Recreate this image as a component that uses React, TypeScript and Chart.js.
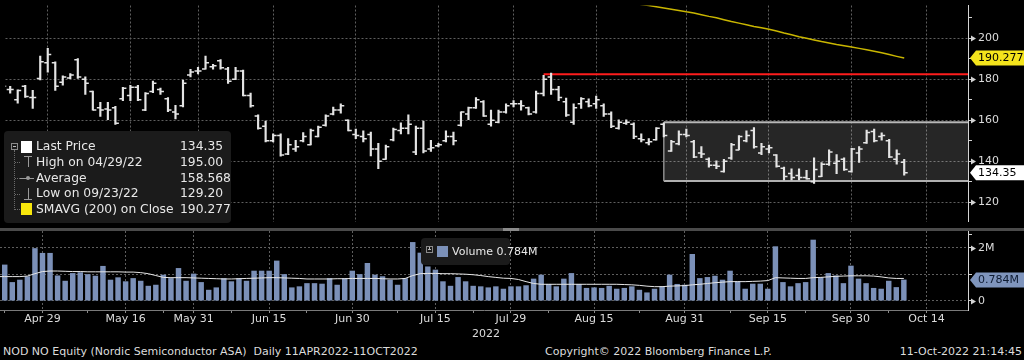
import React, { useEffect, useRef } from "react";
import { Chart, registerables } from "chart.js";

Chart.register(...registerables);

const FONT = '"DejaVu Sans", "Liberation Sans", sans-serif';

// Trading days shown on the chart (Oslo Børs), the last three have no data yet
const dates = [
  "Apr 21", "Apr 22", "Apr 25", "Apr 26", "Apr 27", "Apr 28", "Apr 29",
  "May 2", "May 3", "May 4", "May 5", "May 6", "May 9", "May 10", "May 11", "May 12", "May 13",
  "May 16", "May 18", "May 19", "May 20", "May 23", "May 24", "May 25", "May 27", "May 30", "May 31",
  "Jun 1", "Jun 2", "Jun 3", "Jun 7", "Jun 8", "Jun 9", "Jun 10", "Jun 13", "Jun 14", "Jun 15", "Jun 16", "Jun 17",
  "Jun 20", "Jun 21", "Jun 22", "Jun 23", "Jun 24", "Jun 27", "Jun 28", "Jun 29", "Jun 30",
  "Jul 1", "Jul 4", "Jul 5", "Jul 6", "Jul 7", "Jul 8", "Jul 11", "Jul 12", "Jul 13", "Jul 14", "Jul 15",
  "Jul 18", "Jul 19", "Jul 20", "Jul 21", "Jul 22", "Jul 25", "Jul 26", "Jul 27", "Jul 28", "Jul 29",
  "Aug 1", "Aug 2", "Aug 3", "Aug 4", "Aug 5", "Aug 8", "Aug 9", "Aug 10", "Aug 11", "Aug 12", "Aug 15",
  "Aug 16", "Aug 17", "Aug 18", "Aug 19", "Aug 22", "Aug 23", "Aug 24", "Aug 25", "Aug 26", "Aug 29", "Aug 30", "Aug 31",
  "Sep 1", "Sep 2", "Sep 5", "Sep 6", "Sep 7", "Sep 8", "Sep 9", "Sep 12", "Sep 13", "Sep 14", "Sep 15",
  "Sep 16", "Sep 19", "Sep 20", "Sep 21", "Sep 22", "Sep 23", "Sep 26", "Sep 27", "Sep 28", "Sep 29", "Sep 30",
  "Oct 3", "Oct 4", "Oct 5", "Oct 6", "Oct 7", "Oct 10", "Oct 11", "Oct 12", "Oct 13", "Oct 14",
];

const tickDates = ["Apr 29", "May 16", "May 31", "Jun 15", "Jun 30", "Jul 15", "Jul 29", "Aug 15", "Aug 31", "Sep 15", "Sep 30", "Oct 14"];
const minorTickDates = ["Apr 22", "May 9", "May 24", "Jun 8", "Jun 22", "Jul 8", "Jul 22", "Aug 5", "Aug 23", "Sep 8", "Sep 22", "Oct 7"];

const open = [
  177, 175, 170, 176.5, 171, 180.3, 188, 188, 178.5, 180.5,
  189.5, 180, 174, 166, 165.5, 166, 170.5, 172, 176, 165,
  174, 175, 170.5, 164, 167, 182, 184, 185, 186, 189,
  185, 180, 184, 172, 162, 157, 150, 152.5, 143.5, 146,
  150, 148, 152, 157.5, 163, 165, 160, 153, 152, 153,
  146, 141, 150.5, 155, 156, 144.5, 156, 146, 147.5, 150,
  152, 157.5, 163, 166, 169, 158, 159, 164, 168, 168,
  166, 164, 173, 181, 175, 169, 159, 168, 169, 168,
  167, 163, 156, 158.5, 158, 151, 149, 150.5, 158, 145,
  148.5, 153, 149.5, 144, 141, 138, 135, 141.5, 145.5, 150,
  155, 144, 146, 143, 136.5, 134, 133, 132, 130, 132.5,
  138.5, 139, 141, 135, 144, 149, 154.5, 152, 150, 141,
  139.5,
];
const high = [
  178, 176.5, 174.8, 177, 174.5, 191.2, 195, 188.4, 181.6, 182.7,
  190, 181.1, 174.2, 168.7, 168.7, 166.7, 176, 177, 177, 173.4,
  179.1, 175.7, 171, 167.2, 179.6, 184.8, 185.7, 191.2, 187.2, 189.5,
  185.7, 185.7, 184.4, 173.2, 162.6, 159.5, 153.3, 153.3, 151, 150.2,
  154, 155.6, 157.1, 162.6, 166.4, 168, 160.2, 155.6, 154.8, 154.2,
  148.7, 147.9, 156.1, 158.7, 162.6, 157.1, 159.5, 150.2, 148.7, 154.8,
  154.2, 164.1, 166.4, 171, 169.5, 164.9, 164.9, 168, 169.5, 169.5,
  166.4, 174.2, 181.9, 183, 176.5, 170.8, 168, 171, 170.4, 171.8,
  168, 164.1, 160.2, 160.2, 158.7, 153.3, 151, 156.4, 158.7, 150.2,
  154.8, 155.6, 150.2, 147.1, 141.7, 140.2, 140.9, 148.7, 152.5, 154.8,
  156.4, 148.7, 147.9, 143.2, 137.1, 136.3, 136.3, 135.5, 141.7, 139.3,
  145.6, 143.2, 141.7, 146.3, 147.1, 155.2, 155.6, 153.8, 150.6, 145.6,
  140.9,
];
const low = [
  175, 173.2, 168.3, 171.1, 165.7, 179.6, 183.4, 174.5, 177, 180.2,
  180.3, 172.6, 164.9, 161.8, 160.3, 157.9, 169.5, 169.5, 169.5, 164.6,
  173.4, 172.6, 164.2, 160.6, 166.4, 181.1, 182.5, 184.8, 184.8, 184.8,
  177.9, 179.7, 171.8, 166.3, 155.6, 149.4, 149.4, 142.5, 143.2, 144.8,
  149.4, 147.9, 151.8, 157.1, 162.6, 163.4, 154.8, 151, 149.4, 142.6,
  136.3, 140.9, 149.9, 153.3, 153.3, 143.2, 144, 144.8, 147, 149.4,
  147.9, 157.1, 160.2, 165.7, 161.8, 157.1, 158.7, 163.4, 166.4, 164.9,
  162.6, 163.4, 171.8, 172.6, 169.5, 161.8, 157.9, 165.7, 166.4, 165.7,
  161.8, 156.4, 155.6, 157.9, 151, 149.4, 147.9, 150.2, 151.8, 144.8,
  147.9, 151.8, 141.7, 141.7, 137.1, 136.3, 134.7, 140.9, 145.5, 149.4,
  146.3, 143.2, 144, 137.1, 130.9, 130.9, 130.9, 131.2, 129.2, 132.4,
  137.9, 133.9, 135.5, 134.7, 139.4, 148.7, 149.4, 150.2, 141.7, 138.6,
  133.2,
];
const close = [
  176.5, 175, 174.5, 171.5, 171, 188.5, 192, 176.5, 181, 182,
  181, 178, 165, 165, 165, 158.5, 175.5, 176, 170, 173,
  178, 174, 165, 163, 178, 183.5, 184, 188, 186.5, 185.5,
  179, 184, 172, 167, 156, 150, 152.5, 143, 148, 147,
  152, 155, 156.5, 162, 165, 167, 155, 152.5, 151, 146,
  140, 147, 155.5, 156, 158, 156, 145, 146.5, 148, 152,
  150, 164, 166, 170, 162, 160, 164, 167, 168, 167,
  163, 173, 180, 175, 171, 162.5, 166, 170.5, 167, 170,
  163, 157, 159, 159, 152, 150.5, 149.5, 156, 152.5, 149.5,
  153, 152.5, 142, 143.5, 138, 137.5, 140, 148, 152, 152.5,
  147, 147, 146.5, 137.5, 132.5, 132, 132, 131.5, 136, 138.5,
  144.5, 140, 136, 146, 146, 154, 150, 152.5, 142, 143.5,
  134.35,
];

// Volume in millions of shares and its moving average
const volume = [
  0.65, 1.35, 0.69, 0.78, 0.91, 1.97, 1.79, 1.79, 0.94, 0.74,
  1.03, 1.06, 0.99, 0.93, 1.30, 0.78, 0.87, 0.72, 0.84, 0.74,
  0.55, 0.59, 0.97, 0.84, 1.22, 0.74, 1.01, 0.69, 0.40, 0.49,
  0.84, 0.72, 0.84, 0.74, 1.12, 1.12, 1.12, 1.50, 0.99, 0.49,
  0.53, 0.65, 0.65, 0.63, 0.84, 0.59, 0.84, 1.12, 0.99, 1.41,
  0.97, 0.91, 0.78, 0.59, 0.84, 2.20, 1.80, 1.28, 1.16, 0.72,
  0.55, 0.88, 0.72, 0.55, 0.53, 0.49, 0.53, 0.44, 0.53, 0.53,
  0.57, 0.82, 0.97, 0.62, 0.53, 0.82, 1.03, 0.62, 0.47, 0.49,
  0.47, 0.55, 0.44, 0.47, 0.53, 0.40, 0.30, 0.44, 0.53, 0.97,
  0.62, 0.59, 1.75, 0.84, 0.88, 0.93, 0.78, 1.12, 0.72, 0.44,
  0.63, 0.63, 0.44, 2.04, 0.69, 0.53, 0.65, 0.69, 2.29, 0.87,
  1.03, 0.94, 0.65, 1.31, 0.82, 0.65, 0.47, 0.44, 0.74, 0.50,
  0.784,
];
const volumeAvg = [
  0.91, 0.91, 0.91, 0.91, 0.93, 1.02, 1.10, 1.12, 1.12, 1.11,
  1.10, 1.10, 1.09, 1.09, 1.09, 1.09, 1.09, 1.08, 1.08, 1.06,
  1.02, 0.95, 0.88, 0.87, 0.87, 0.87, 0.86, 0.85, 0.84, 0.83,
  0.82, 0.82, 0.83, 0.84, 0.85, 0.86, 0.87, 0.87, 0.86, 0.85,
  0.84, 0.82, 0.82, 0.82, 0.82, 0.83, 0.83, 0.84, 0.84, 0.84,
  0.84, 0.83, 0.82, 0.82, 0.84, 0.95, 1.02, 1.03, 1.03, 1.02,
  1.02, 1.01, 1.00, 0.98, 0.95, 0.91, 0.88, 0.85, 0.84, 0.80,
  0.72, 0.65, 0.62, 0.62, 0.62, 0.62, 0.62, 0.62, 0.62, 0.62,
  0.62, 0.62, 0.62, 0.61, 0.60, 0.58, 0.55, 0.53, 0.53, 0.55,
  0.56, 0.57, 0.60, 0.62, 0.65, 0.68, 0.70, 0.72, 0.72, 0.72,
  0.73, 0.74, 0.76, 0.87, 0.86, 0.85, 0.84, 0.84, 0.87, 0.88,
  0.90, 0.92, 0.93, 0.94, 0.94, 0.94, 0.93, 0.90, 0.86, 0.84,
  0.84,
];

// 200-day simple moving average on close (only the visible tail)
const smaStartDate = "Aug 22";
const sma200 = [
  217.0, 216.4, 215.9, 215.3, 214.7, 214.1, 213.5, 212.8, 212.2, 211.4,
  210.6, 209.9, 209.0, 208.1, 207.3, 206.5, 205.7, 205.0, 204.3, 203.5,
  202.5, 201.6, 200.7, 199.9, 199.1, 198.3, 197.6, 196.9, 196.3, 195.7,
  195.0, 194.3, 193.6, 192.9, 192.0, 191.1, 190.277,
];

// Drawn annotations
const resistanceStartDate = "Aug 4";
const resistanceLevel = 182.4;
const channelStartDate = "Aug 26";
const channelTop = 159.0;
const channelBottom = 130.4;

const priceTicks = [120, 130, 140, 150, 160, 170, 180, 190, 200, 210];
const priceLabelled = [120, 140, 160, 180, 200];
const volumeTicks = [0, 1, 2, 2.5];
const volumeLabelled = [0, 2];
const volumeGrid = [0, 1, 2];

const lastPrice = 134.35;
const lastSma = 190.277;
const lastVolume = 0.784;

// View window
const X_MIN = 0.375;
const X_MAX = 128.49;
const Y_MIN = 110.6;
const Y_MAX = 215.9;
const V_MIN = -0.35;
const V_MAX = 2.63;

const GRID = "#5e5e5e";
const AXIS = "#d4d4d4";
const TEXT = "#dcdcdc";
const BAR = "#e4e4e4";
const VOL = "#7b90b8";

const majorIdx = tickDates.map((d) => dates.indexOf(d));
const minorIdx = minorTickDates.map((d) => dates.indexOf(d));
const allTickIdx = majorIdx.concat(minorIdx).sort((a, b) => a - b);

function axisDecor(id: string, majors: number[], flags: { value: number; text: string; bg: string; fg: string }[]) {
  return {
    id,
    afterDraw(chart: any) {
      const ctx = chart.ctx;
      const ys = chart.scales.y;
      const x0 = ys.left;
      ctx.save();
      ctx.fillStyle = AXIS;
      majors.forEach((v) => {
        const py = Math.round(ys.getPixelForValue(v)) + 0.5;
        ctx.beginPath();
        ctx.moveTo(x0 + 3, py - 3);
        ctx.lineTo(x0 + 8, py);
        ctx.lineTo(x0 + 3, py + 3);
        ctx.closePath();
        ctx.fill();
      });
      flags.forEach((f) => {
        const py = ys.getPixelForValue(f.value);
        const h = 7.5;
        ctx.fillStyle = f.bg;
        ctx.beginPath();
        ctx.moveTo(x0 + 2, py);
        ctx.lineTo(x0 + 8, py - h);
        ctx.lineTo(chart.width, py - h);
        ctx.lineTo(chart.width, py + h);
        ctx.lineTo(x0 + 8, py + h);
        ctx.closePath();
        ctx.fill();
        ctx.fillStyle = f.fg;
        ctx.font = `11px ${FONT}`;
        ctx.textBaseline = "middle";
        ctx.textAlign = "left";
        ctx.fillText(f.text, x0 + 10, py + 0.5);
      });
      ctx.restore();
    },
  };
}

function xScale(showLabels: boolean) {
  return {
    type: "linear",
    min: X_MIN,
    max: X_MAX,
    bounds: "data",
    offset: false,
    afterBuildTicks: (s: any) => {
      s.ticks = (showLabels ? allTickIdx : majorIdx).map((v) => ({ value: v }));
    },
    afterFit: (s: any) => {
      s.height = showLabels ? 20 : 0;
      s.paddingLeft = 0;
      s.paddingRight = 0;
    },
    ticks: {
      display: showLabels,
      autoSkip: false,
      maxRotation: 0,
      padding: 0,
      color: TEXT,
      font: { family: FONT, size: 11 },
      callback: (v: any) => (majorIdx.includes(v) ? dates[v] : ""),
    },
    grid: {
      offset: false,
      color: (c: any) => (c.tick && majorIdx.includes(c.tick.value) ? GRID : "rgba(0,0,0,0)"),
      lineWidth: 1,
      drawTicks: showLabels,
      tickLength: 3,
      tickColor: "#8a8a8a",
      tickBorderDash: [],
    },
    border: { display: showLabels, color: "#7a7a7a", width: 1, dash: [2, 2] },
  };
}

function yScale(min: number, max: number, ticks: number[], labelled: number[], gridAt: number[], fmt: (v: number) => string) {
  return {
    position: "right",
    min,
    max,
    bounds: "data",
    afterBuildTicks: (s: any) => {
      s.ticks = ticks.map((v) => ({ value: v }));
    },
    afterFit: (s: any) => {
      s.width = 56;
      s.paddingTop = 0;
      s.paddingBottom = 0;
    },
    ticks: {
      autoSkip: false,
      padding: 6,
      color: TEXT,
      font: { family: FONT, size: 11 },
      callback: (v: any) => (labelled.includes(v) ? fmt(v) : ""),
    },
    grid: {
      color: (c: any) => (c.tick && gridAt.includes(c.tick.value) ? GRID : "rgba(0,0,0,0)"),
      lineWidth: 1,
      drawTicks: true,
      tickLength: 4,
      tickColor: AXIS,
      tickBorderDash: [],
    },
    border: { display: true, color: AXIS, width: 1, dash: [2, 2] },
  };
}

function priceConfig(): any {
  const n = close.length;
  const xEnd = dates.length + 10;
  const ch = dates.indexOf(channelStartDate);
  const rs = dates.indexOf(resistanceStartDate);
  const s0 = dates.indexOf(smaStartDate);
  return {
    type: "bar",
    data: {
      datasets: [
        {
          type: "line",
          data: [{ x: ch, y: channelTop }, { x: xEnd, y: channelTop }],
          borderColor: "#b0b0b0",
          borderWidth: 2,
          pointRadius: 0,
          order: 10,
        },
        {
          type: "line",
          data: [{ x: ch, y: channelBottom }, { x: xEnd, y: channelBottom }],
          borderColor: "#b0b0b0",
          borderWidth: 2,
          pointRadius: 0,
          fill: "-1",
          backgroundColor: "rgba(255,255,255,0.15)",
          order: 9,
        },
        {
          type: "line",
          data: [{ x: ch, y: channelBottom }, { x: ch, y: channelTop }],
          borderColor: "#8c8c8c",
          borderWidth: 1.5,
          pointRadius: 0,
          order: 8,
        },
        {
          type: "line",
          data: [{ x: rs, y: resistanceLevel }, { x: xEnd, y: resistanceLevel }],
          borderColor: "#ff1c1c",
          borderWidth: 2,
          pointRadius: 0,
          order: 7,
        },
        {
          type: "line",
          data: sma200.map((v, i) => ({ x: s0 + i, y: v })),
          borderColor: "#c9b600",
          borderWidth: 1.5,
          pointRadius: 0,
          order: 6,
        },
        {
          type: "bar",
          data: Array.from({ length: n }, (_, i) => ({ x: i, y: [low[i], high[i]] })),
          backgroundColor: BAR,
          barThickness: 1.5,
          grouped: false,
          order: 3,
        },
        {
          type: "line",
          showLine: false,
          data: open.map((v, i) => ({ x: i, y: v })),
          pointStyle: "dash",
          pointRotation: 180,
          pointRadius: 3.5,
          pointBorderWidth: 1.5,
          pointBorderColor: BAR,
          pointBackgroundColor: BAR,
          order: 2,
        },
        {
          type: "line",
          showLine: false,
          data: close.map((v, i) => ({ x: i, y: v })),
          pointStyle: "dash",
          pointRotation: 0,
          pointRadius: 3.5,
          pointBorderWidth: 1.5,
          pointBorderColor: BAR,
          pointBackgroundColor: BAR,
          order: 1,
        },
      ],
    },
    options: {
      responsive: false,
      animation: false,
      devicePixelRatio: 1,
      layout: { padding: 0 },
      events: [],
      plugins: { legend: { display: false }, tooltip: { enabled: false }, title: { display: false } },
      scales: {
        x: xScale(false),
        y: yScale(Y_MIN, Y_MAX, priceTicks, priceLabelled, priceLabelled, (v) => String(v)),
      },
    },
    plugins: [
      axisDecor("priceDecor", priceLabelled, [
        { value: lastSma, text: lastSma.toFixed(3), bg: "#f4e41c", fg: "#000000" },
        { value: lastPrice, text: lastPrice.toFixed(2), bg: "#ffffff", fg: "#000000" },
      ]),
    ],
  };
}

function volumeConfig(): any {
  return {
    type: "bar",
    data: {
      datasets: [
        {
          type: "line",
          data: volumeAvg.map((v, i) => ({ x: i, y: v })),
          borderColor: "#e6e6e6",
          borderWidth: 1,
          pointRadius: 0,
          order: 1,
        },
        {
          type: "bar",
          data: volume.map((v, i) => ({ x: i, y: v })),
          backgroundColor: VOL,
          barThickness: 4.8,
          grouped: false,
          order: 2,
        },
      ],
    },
    options: {
      responsive: false,
      animation: false,
      devicePixelRatio: 1,
      layout: { padding: 0 },
      events: [],
      plugins: { legend: { display: false }, tooltip: { enabled: false }, title: { display: false } },
      scales: {
        x: xScale(true),
        y: yScale(V_MIN, V_MAX, volumeTicks, volumeLabelled, volumeGrid, (v) => (v === 0 ? "0" : `${v}M`)),
      },
    },
    plugins: [
      axisDecor("volDecor", volumeLabelled, [
        { value: lastVolume, text: `${lastVolume}M`, bg: "#7f95bd", fg: "#0f1c33" },
      ]),
    ],
  };
}

const legendRows = [
  { label: "Last Price", value: lastPrice.toFixed(2), icon: "box", color: "#ffffff" },
  { label: "High on 04/29/22", value: "195.00", icon: "high", color: "#9a9a9a" },
  { label: "Average", value: "158.568", icon: "avg", color: "#9a9a9a" },
  { label: "Low on 09/23/22", value: "129.20", icon: "low", color: "#9a9a9a" },
  { label: "SMAVG (200)  on Close", value: lastSma.toFixed(3), icon: "box", color: "#f7e60c" },
];

function Icon({ kind, color, cy }: { kind: string; color: string; cy: number }) {
  const abs = (s: any) => <div style={{ position: "absolute", ...s }} />;
  if (kind === "box") return abs({ left: 21, top: cy - 6, width: 11, height: 12, background: color });
  if (kind === "high")
    return (
      <>
        {abs({ left: 24, top: cy - 6, width: 8, height: 1, background: color })}
        {abs({ left: 27.5, top: cy - 6, width: 1, height: 11, background: color })}
      </>
    );
  if (kind === "low")
    return (
      <>
        {abs({ left: 24, top: cy + 5, width: 8, height: 1, background: color })}
        {abs({ left: 27.5, top: cy - 6, width: 1, height: 11, background: color })}
      </>
    );
  return (
    <>
      {abs({ left: 20, top: cy, width: 14, height: 1, background: color })}
      {abs({ left: 25.5, top: cy - 2, width: 4, height: 4, background: color, borderRadius: 2 })}
    </>
  );
}

export default function App() {
  const priceRef = useRef<HTMLCanvasElement>(null);
  const volRef = useRef<HTMLCanvasElement>(null);

  useEffect(() => {
    Chart.defaults.font.family = FONT;
    const pc = new Chart(priceRef.current as HTMLCanvasElement, priceConfig());
    const vc = new Chart(volRef.current as HTMLCanvasElement, volumeConfig());
    return () => {
      pc.destroy();
      vc.destroy();
    };
  }, []);

  const rowY0 = 146.7;
  const rowStep = 15.65;
  const txt = (s: any, children: any) => (
    <div style={{ position: "absolute", whiteSpace: "pre", lineHeight: "14px", ...s }}>{children}</div>
  );

  return (
    <div
      style={{
        position: "fixed",
        left: 0,
        top: 0,
        width: 1024,
        height: 360,
        background: "#000",
        overflow: "hidden",
        fontFamily: FONT,
        color: TEXT,
      }}
    >
      <canvas ref={priceRef} width={1024} height={227} style={{ position: "absolute", left: 0, top: 0, width: 1024, height: 227 }} />
      <canvas ref={volRef} width={1024} height={99} style={{ position: "absolute", left: 0, top: 231, width: 1024, height: 99 }} />

      {/* panel separator */}
      <div style={{ position: "absolute", left: 0, top: 228, width: 1024, height: 3, background: "#4a4a4a" }} />
      <div style={{ position: "absolute", left: 503, top: 228, width: 16, height: 3, background: "#8a8a8a" }} />

      {/* price legend */}
      <div style={{ position: "absolute", left: 4, top: 131, width: 227, height: 92, background: "#1b1b1b", borderRadius: 4 }} />
      <div style={{ position: "absolute", left: 11, top: 143, width: 5, height: 5, border: "1px solid #8a8a8a" }} />
      <div style={{ position: "absolute", left: 13, top: 145.5, width: 3, height: 1, background: "#bbb" }} />
      <div style={{ position: "absolute", left: 14, top: 150, width: 0, height: 60, borderLeft: "1px dotted #6a6a6a" }} />
      {legendRows.map((r, i) => {
        const cy = rowY0 + i * rowStep;
        return (
          <React.Fragment key={r.label}>
            {i > 0 && <div style={{ position: "absolute", left: 15, top: cy, width: 5, height: 0, borderTop: "1px dotted #6a6a6a" }} />}
            <Icon kind={r.icon} color={r.color} cy={cy} />
            {txt({ left: 36, top: cy - 7.5, fontSize: 12.3, color: "#e8e8e8", whiteSpace: "nowrap" }, r.label)}
            {txt({ left: 180, top: cy - 7.5, fontSize: 12.3, color: "#e8e8e8" }, r.value)}
          </React.Fragment>
        );
      })}

      {/* volume legend */}
      <div style={{ position: "absolute", left: 421, top: 238, width: 89, height: 27, background: "#1b1b1b", borderRadius: 4 }} />
      <div style={{ position: "absolute", left: 426, top: 246, width: 5, height: 5, border: "1px solid #8a8a8a" }} />
      <div style={{ position: "absolute", left: 428, top: 248.5, width: 3, height: 1, background: "#bbb" }} />
      <div style={{ position: "absolute", left: 429, top: 247, width: 1, height: 3, background: "#bbb" }} />
      <div style={{ position: "absolute", left: 437, top: 246, width: 11, height: 11, background: VOL }} />
      {txt({ left: 452, top: 245, fontSize: 11, color: "#e8e8e8" }, `Volume ${lastVolume}M`)}

      {/* year under the axis */}
      {txt({ left: 472, top: 327, fontSize: 11 }, "2022")}

      {/* footer */}
      {txt({ left: 3, top: 344.5, fontSize: 11 }, "NOD NO Equity (Nordic Semiconductor ASA)  Daily 11APR2022-11OCT2022")}
      {txt({ left: 545, top: 344.5, fontSize: 11 }, "Copyright\u00a9 2022 Bloomberg Finance L.P.")}
      {txt({ right: 2, top: 344.5, fontSize: 11 }, "11-Oct-2022 21:14:45")}
    </div>
  );
}
